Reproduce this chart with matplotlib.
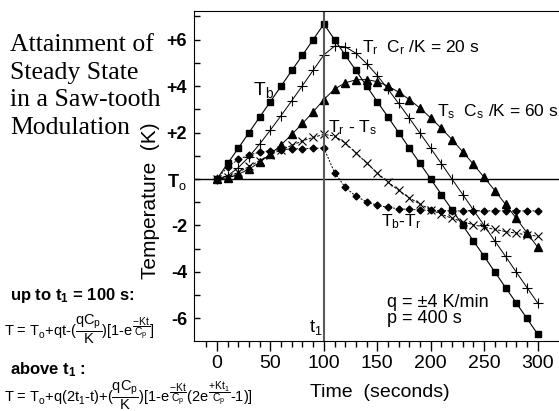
import matplotlib
matplotlib.use('Agg')
import matplotlib.pyplot as plt

plt.rcParams['font.family'] = ['Liberation Sans', 'DejaVu Sans']
plt.rcParams['mathtext.fontset'] = 'custom'
plt.rcParams['mathtext.rm'] = 'Liberation Sans'
plt.rcParams['mathtext.it'] = 'Liberation Sans'
plt.rcParams['mathtext.sf'] = 'Liberation Sans'
plt.rcParams['mathtext.bf'] = 'Liberation Sans:bold'

# time in seconds, one point every 10 s
t = [0, 10, 20, 30, 40, 50, 60, 70, 80, 90, 100, 110, 120, 130, 140, 150,
     160, 170, 180, 190, 200, 210, 220, 230, 240, 250, 260, 270, 280, 290, 300]

T_b = [0, 0.67, 1.33, 2.00, 2.67, 3.33, 4.00, 4.67, 5.33, 6.00, 6.67, 6.00, 5.33, 4.67,
       4.00, 3.33, 2.67, 2.00, 1.33, 0.67, 0.00, -0.67, -1.33, -2.00, -2.67, -3.33,
       -4.00, -4.67, -5.33, -6.00, -6.67]
T_r = [0, 0.14, 0.49, 0.96, 1.51, 2.11, 2.73, 3.37, 4.02, 4.68, 5.34, 5.72, 5.69, 5.41,
       4.97, 4.45, 3.87, 3.25, 2.62, 1.97, 1.32, 0.66, -0.01, -0.67, -1.34, -2.00,
       -2.67, -3.33, -4.00, -4.67, -5.33]
T_s = [0, 0.05, 0.20, 0.43, 0.72, 1.07, 1.47, 1.92, 2.39, 2.89, 3.42, 3.87, 4.14, 4.27,
       4.28, 4.19, 4.00, 3.74, 3.42, 3.05, 2.63, 2.18, 1.69, 1.17, 0.63, 0.07, -0.50,
       -1.09, -1.69, -2.31, -2.93]
Tr_Ts = [0, 0.09, 0.29, 0.54, 0.79, 1.04, 1.26, 1.45, 1.64, 1.79, 1.92, 1.85, 1.55, 1.13,
         0.69, 0.26, -0.13, -0.49, -0.81, -1.08, -1.32, -1.52, -1.69, -1.84, -1.97,
         -2.07, -2.17, -2.26, -2.33, -2.40, -2.46]
Tb_Tr = [0, 0.53, 0.84, 1.04, 1.15, 1.22, 1.27, 1.29, 1.31, 1.32, 1.33, 0.28, -0.36, -0.74,
         -0.98, -1.13, -1.22, -1.28, -1.31, -1.33, -1.35, -1.36, -1.37, -1.37, -1.37,
         -1.37, -1.37, -1.37, -1.37, -1.37, -1.37]

x_ticks = [0, 50, 100, 150, 200, 250, 300]
y_ticks = [-6, -4, -2, 0, 2, 4, 6]
y_labels = ['-6', '-4', '-2', r'T$_o$', '+2', '+4', '+6']

W, H = 559, 411
fig = plt.figure(figsize=(W / 100, H / 100), dpi=100)
ax = fig.add_axes([194 / W, 1 - 341 / H, (W - 194) / W, 330 / H])

ax.plot(t, T_b, '-s', color='black', lw=0.8, ms=5)
ax.plot(t, T_r, '-+', color='black', lw=0.7, ms=7, mew=0.8)
ax.plot(t, T_s, '-^', color='black', lw=0.7, ms=5.5)
ax.plot(t, Tr_Ts, 'x', color='black', ls=(0, (3, 1.5)), lw=0.7, ms=6, mew=0.8)
ax.plot(t, Tb_Tr, 'D', color='black', ls=(0, (2, 1.5)), lw=0.7, ms=3.5)

ax.axhline(0, color='black', lw=1)
ax.axvline(100, color='0.35', lw=1.5)

ax.set_xlim(-21.5, 320)
ax.set_ylim(-6.97, 7.23)
ax.spines['right'].set_visible(False)

ax.set_xticks(x_ticks)
ax.set_xticks(range(-10, 310, 10), minor=True)
ax.tick_params(axis='x', which='major', direction='out', length=7, width=1,
               labelsize=14, pad=3)
ax.tick_params(axis='x', which='minor', direction='out', length=4, width=1)
ax.set_yticks(y_ticks)
ax.set_yticklabels(y_labels)
ax.set_yticks([-5, -3, -1, 1, 3, 5, 7], minor=True)
ax.tick_params(axis='y', which='both', direction='in', length=4, width=1,
               labelsize=13, pad=5)
for lab in ax.get_yticklabels():
    lab.set_fontweight('bold')

ax.set_ylabel('Temperature  (K)', fontsize=15)
ax.yaxis.set_label_coords(-0.092, 0.424)
ax.set_xlabel('Time  (seconds)', fontsize=14)
ax.xaxis.set_label_coords(0.51, -0.13)

# curve labels
kw = dict(fontsize=12.5, va='center')
ax.text(34, 3.85, r'T$_b$', fontsize=14, va='center')
ax.text(136, 5.65, r'T$_r$  C$_r$ /K = 20 s', **kw)
ax.text(206, 2.9, r'T$_s$  C$_s$ /K = 60 s', **kw)
ax.text(104, 2.2, r'T$_r$ - T$_s$', **kw)
ax.text(153, -1.85, r'T$_b$-T$_r$', **kw)
ax.text(159, -5.3, u'q = \u00b14 K/min', fontsize=13, va='center')
ax.text(159, -6.0, 'p = 400 s', fontsize=13, va='center')
ax.text(86, -6.4, r't$_1$', fontsize=13, va='center')

# title on the left
title_lines = ['Attainment of', 'Steady State', 'in a Saw-tooth', 'Modulation']
for i, line in enumerate(title_lines):
    fig.text(10 / W, 1 - (51 + 27.5 * i) / H, line, fontsize=18.5,
             family='Liberation Serif', va='baseline')

fig.text(10 / W, 1 - 300 / H, r'up to t$_\mathbf{1}$ = 100 s:', fontsize=12,
         weight='bold', va='baseline')
fig.text(4 / W, 1 - 337 / H,
         r'T = T$_o$+qt-$(\dfrac{qC_p}{K})[1$-$e^{\dfrac{-Kt}{C_p}}]$',
         fontsize=10.5, va='baseline')
fig.text(10 / W, 1 - 374 / H, r'above t$_\mathbf{1}$ :', fontsize=12,
         weight='bold', va='baseline')
fig.text(4 / W, 1 - 403 / H,
         r'T = T$_o$+q(2t$_1$-t)+$(\dfrac{qC_p}{K})[1$-$e^{\dfrac{-Kt}{C_p}}(2e^{\dfrac{+Kt_1}{C_p}}$-1)]',
         fontsize=10.5, va='baseline')

fig.savefig('out.png', dpi=100)
